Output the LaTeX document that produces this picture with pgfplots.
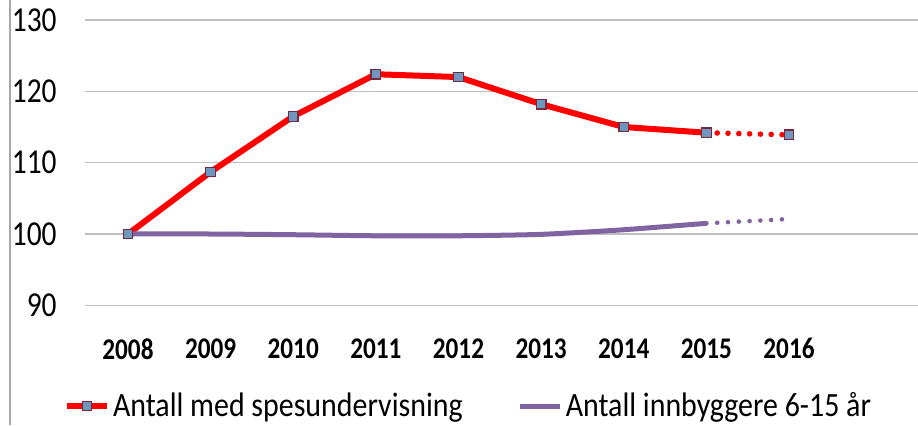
\documentclass[border=0pt]{standalone}
\usepackage{pgfplots}
\pgfplotsset{compat=1.18}
\usepackage{fontspec}
\setmainfont{Carlito}
\newfontfamily\cfont[FakeStretch=0.84]{Carlito}
\newfontfamily\lfont[FakeStretch=0.88]{Carlito}
\definecolor{redline}{RGB}{255,0,0}
\definecolor{purpline}{RGB}{128,100,162}
\definecolor{gridc}{RGB}{190,190,190}
\definecolor{mfill}{RGB}{110,150,190}
\definecolor{mdraw}{RGB}{120,40,60}
\begin{document}
\begin{tikzpicture}
\useasboundingbox (0,0) rectangle (459pt,212.5pt);
\fill[white] (0,0) rectangle (459pt,212.5pt);
\draw[gray!70, line width=0.8pt] (5pt,0) -- (5pt,212.5pt);
\begin{axis}[
  at={(42.5pt,42pt)}, anchor=south west,
  scale only axis, width=416.5pt, height=160.5pt,
  xmin=2007.48, xmax=2017.56, ymin=85, ymax=130,
  axis line style={draw=none},
  tick style={draw=none},
  clip=false,
  xtick={2008,...,2016}, ytick={90,100,...,130},
  ymajorgrids, grid style={gridc, line width=0.8pt},
  xticklabel style={font=\cfont\bfseries\fontsize{15}{17}\selectfont, anchor=north, inner sep=0pt, yshift=1.5pt},
  yticklabel style={font=\cfont\fontsize{17.5}{20}\selectfont, anchor=east, inner sep=0pt, xshift=-14pt},
  xticklabel={\pgfmathprintnumber[1000 sep={}]{\tick}},
  /pgf/number format/assume math mode=true,
  legend style={at={(0.461,-0.2025)}, anchor=center, draw=none, fill=none,
    legend columns=2, font=\lfont\fontsize{17}{19}\selectfont,
    nodes={inner xsep=1.5pt},
    /tikz/every even column/.append style={column sep=26pt}},
  legend cell align=left,
  legend image code/.code={
    \draw[#1] (0cm,0cm) -- (20pt,0cm);
    \draw[#1, only marks] plot coordinates {(10pt,0cm)};},
]
\addplot[redline, line width=3pt, mark=square*, mark size=2.4pt,
  mark options={fill=mfill, draw=mdraw, line width=0.6pt, solid}] coordinates {
(2008,100) (2009,108.7) (2010,116.5) (2011,122.4) (2012,122.0) (2013,118.2) (2014,115.0) (2015,114.2)};
\addlegendentry{Antall med spesundervisning}
\addplot[purpline, line width=2.5pt, smooth, tension=0.4, no markers] coordinates {
(2008,100) (2009,100) (2010,99.9) (2011,99.75) (2012,99.75) (2013,99.95) (2014,100.6) (2015,101.5)};
\addlegendentry{Antall innbyggere 6-15 år}
\addplot[purpline, line width=2.3pt, line cap=round, dash pattern=on 0pt off 5.4pt, no markers, forget plot] coordinates {
(2015,101.5) (2016,102.1)};
\addplot[redline, line width=2.8pt, line cap=round, dash pattern=on 0pt off 5.4pt, mark=square*, mark size=2.4pt,
  mark options={fill=mfill, draw=mdraw, line width=0.6pt, solid}, forget plot] coordinates {
(2015,114.2) (2016,113.9)};
\end{axis}
\end{tikzpicture}
\end{document}
